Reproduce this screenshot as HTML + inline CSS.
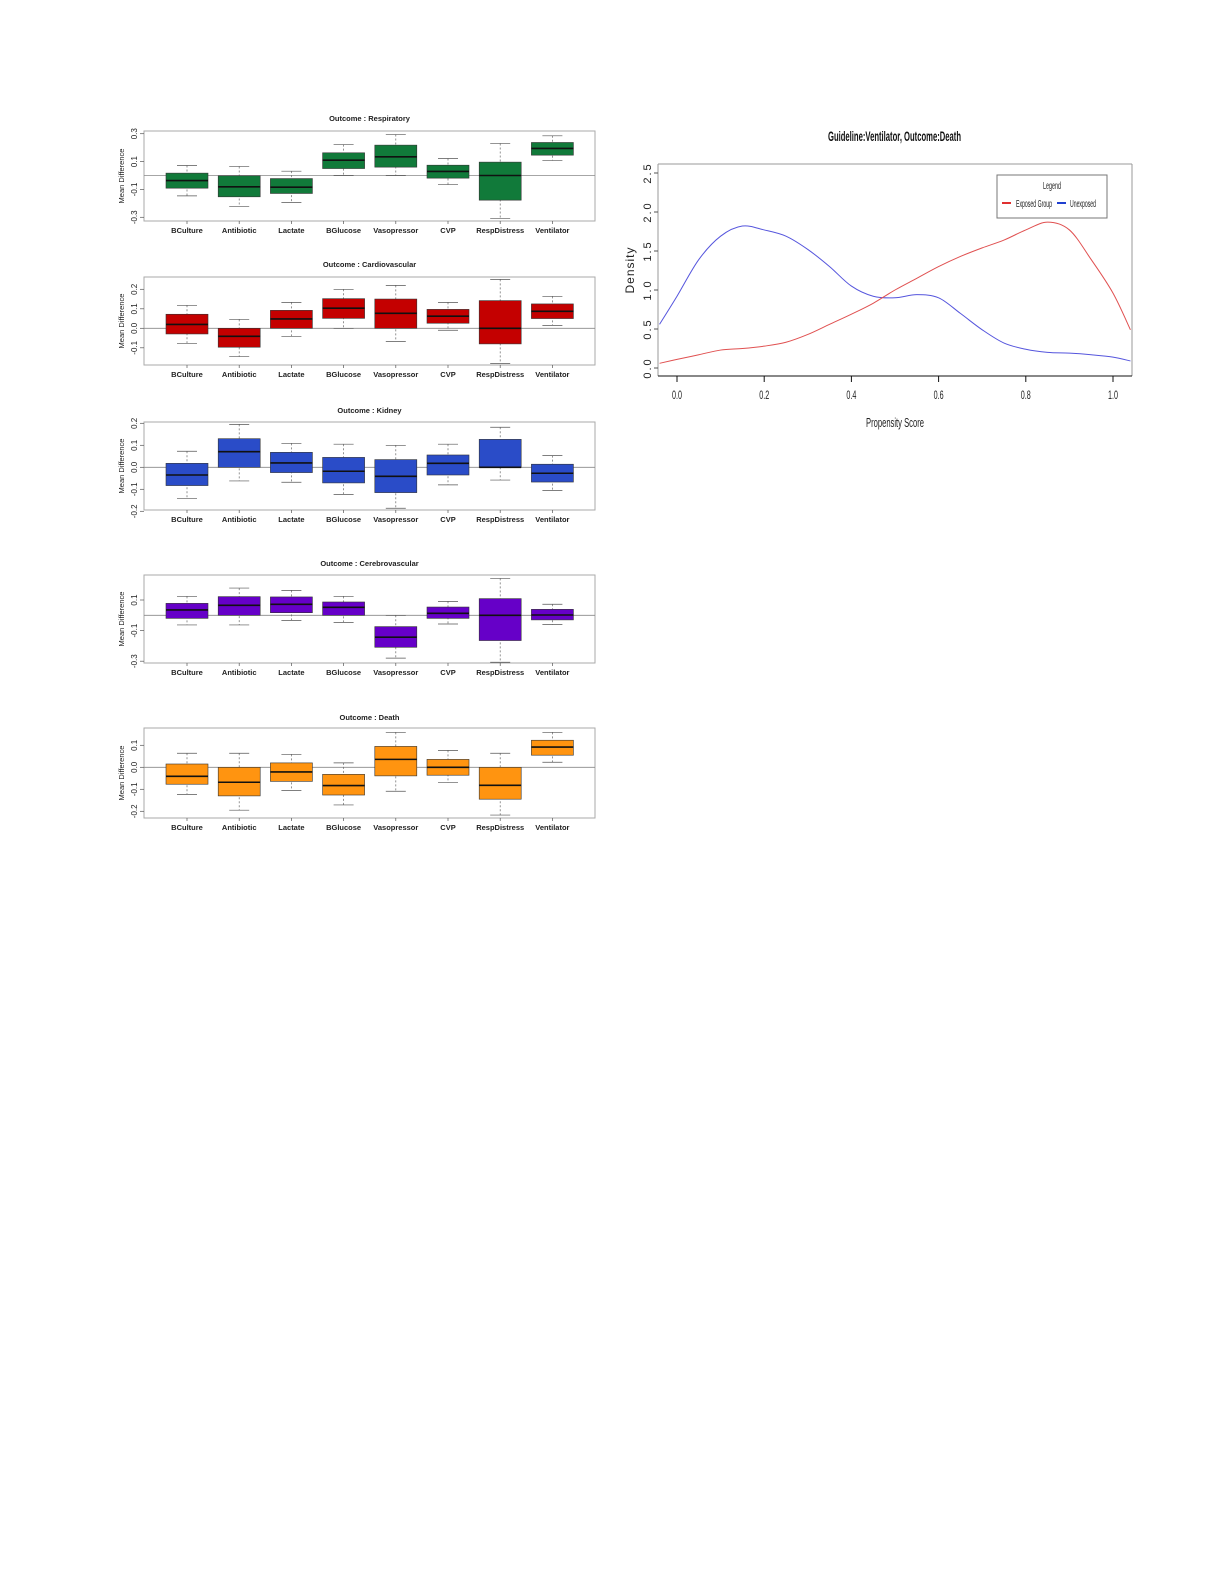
<!DOCTYPE html>
<html><head><meta charset="utf-8">
<style>
html,body{margin:0;padding:0;background:#fff;}
svg{display:block;font-family:"Liberation Sans",sans-serif;}
.bt{font-size:7.5px;font-weight:bold;fill:#222;}
.cat{font-size:7.5px;fill:#222;}
.tk{font-size:8px;fill:#222;}
</style></head>
<body>
<svg id="root" width="1225" height="1585" viewBox="0 0 1225 1585">
<g id="boxes"></g>
<g id="dens"></g>
</svg>
<script>
const categories = ["BCulture","Antibiotic","Lactate","BGlucose","Vasopressor","CVP","RespDistress","Ventilator"];
const titles = ["Outcome : Respiratory","Outcome : Cardiovascular","Outcome : Kidney","Outcome : Cerebrovascular","Outcome : Death"];
const colors = ["#117a3a","#c40000","#2a4cc8","#6600c8","#ff9410"];
// [lo, q1, med, q3, hi] per category
const respStats = [[-0.146,-0.091,-0.036,0.017,0.072],[-0.222,-0.153,-0.081,-0.002,0.065],[-0.194,-0.129,-0.084,-0.022,0.031],[0,0.05,0.110,0.163,0.222],[0,0.06,0.134,0.218,0.294],[-0.065,-0.019,0.029,0.074,0.122],[-0.309,-0.177,0,0.096,0.23],[0.108,0.146,0.194,0.237,0.285]];
const cardStats = [[-0.077,-0.029,0.02,0.072,0.118],[-0.145,-0.097,-0.041,0,0.046],[-0.041,0,0.048,0.092,0.133],[0,0.051,0.103,0.152,0.2],[-0.067,0,0.077,0.15,0.22],[-0.01,0.026,0.062,0.097,0.133],[-0.18,-0.08,0,0.142,0.251],[0.015,0.05,0.087,0.125,0.164]];
const kidStats = [[-0.141,-0.083,-0.035,0.018,0.073],[-0.062,0,0.071,0.13,0.195],[-0.068,-0.024,0.02,0.068,0.109],[-0.123,-0.071,-0.018,0.045,0.105],[-0.186,-0.115,-0.041,0.035,0.1],[-0.08,-0.035,0.018,0.056,0.105],[-0.058,0,0,0.127,0.182],[-0.105,-0.067,-0.027,0.014,0.053]];
const cereStats = [[-0.063,-0.02,0.035,0.078,0.124],[-0.063,0,0.065,0.122,0.178],[-0.033,0.017,0.072,0.12,0.163],[-0.046,0,0.052,0.087,0.124],[-0.28,-0.209,-0.143,-0.074,0],[-0.057,-0.02,0.013,0.054,0.091],[-0.307,-0.165,0,0.109,0.241],[-0.061,-0.03,0.002,0.039,0.072]];
const deathStats = [[-0.123,-0.077,-0.041,0.015,0.064],[-0.195,-0.13,-0.068,0,0.064],[-0.105,-0.064,-0.021,0.02,0.059],[-0.171,-0.126,-0.083,-0.032,0.02],[-0.109,-0.039,0.036,0.095,0.159],[-0.07,-0.036,0,0.036,0.077],[-0.217,-0.145,-0.082,0,0.064],[0.023,0.055,0.092,0.123,0.159]];
const panelStats = [respStats,cardStats,kidStats,cereStats,deathStats];
const tickSets = [[0.3,0.1,-0.1,-0.3],[0.2,0.1,0.0,-0.1],[0.2,0.1,0.0,-0.1,-0.2],[0.1,-0.1,-0.3],[0.1,0.0,-0.1,-0.2]];

// density data
const gridX = [-0.04,0,0.05,0.1,0.15,0.2,0.25,0.3,0.35,0.4,0.45,0.5,0.55,0.6,0.65,0.7,0.75,0.8,0.85,0.9,0.95,1.0,1.04];
const unexposed = [0.56,0.92,1.39,1.69,1.82,1.77,1.69,1.52,1.30,1.05,0.92,0.90,0.94,0.90,0.70,0.49,0.32,0.24,0.20,0.19,0.17,0.14,0.09];
const exposed = [0.06,0.11,0.17,0.23,0.25,0.28,0.33,0.43,0.56,0.69,0.83,1.00,1.15,1.30,1.43,1.54,1.64,1.77,1.87,1.77,1.39,0.96,0.49];
const xTicks = ["0.0","0.2","0.4","0.6","0.8","1.0"];
const yTicks = ["0.0","0.5","1.0","1.5","2.0","2.5"];

const NS="http://www.w3.org/2000/svg";
function mk(parent,tag,attrs,text){const e=document.createElementNS(NS,tag);for(const k in attrs)e.setAttribute(k,attrs[k]);if(text!==undefined)e.textContent=text;parent.appendChild(e);return e;}

const layout=[{title:118,top:131,bot:221,zero:175.5,k:139.3},{title:264,top:277,bot:365,zero:328.3,k:195},{title:410,top:422,bot:510,zero:467.3,k:220},{title:563,top:575,bot:663,zero:615.3,k:153},{title:717,top:728,bot:818,zero:767.3,k:220}];
const L=144,R=595,c0=187,dc=52.2,bw=42;
const bg=document.getElementById('boxes');
layout.forEach((p,pi)=>{
  const g=mk(bg,'g',{});
  
  
  const y=v=>p.zero-v*p.k;
  const t=mk(g,'text',{x:(L+R)/2,y:p.title+3,'text-anchor':'middle',class:'bt'},titles[pi]);
  
  
  const fr=mk(g,'rect',{x:L,y:p.top,width:R-L,height:p.bot-p.top,fill:'none',stroke:'#aaa','stroke-width':1});
  
  
  mk(g,'line',{x1:L,x2:R,y1:y(0),y2:y(0),stroke:'#888','stroke-width':0.8});
  tickSets[pi].forEach(v=>{
    mk(g,'line',{x1:L-4,x2:L,y1:y(v),y2:y(v),stroke:'#555','stroke-width':0.7});
    const tl=mk(g,'text',{x:0,y:0,class:'tk','text-anchor':'middle',transform:`translate(137,${y(v)}) rotate(-90)`},v.toFixed(1));
    
    
  });
  const yt=mk(g,'text',{x:0,y:0,class:'cat','text-anchor':'middle',transform:`translate(124,${(p.top+p.bot)/2}) rotate(-90)`},'Mean Difference');
  
  
  panelStats[pi].forEach((s,i)=>{
    const cx=c0+i*dc;
    const bx=mk(g,'g',{});
    
    
    mk(bx,'line',{x1:cx,x2:cx,y1:y(s[4]),y2:y(s[0]),stroke:'#666','stroke-width':0.7,'stroke-dasharray':'2,2'});
    mk(bx,'line',{x1:cx-10,x2:cx+10,y1:y(s[4]),y2:y(s[4]),stroke:'#555','stroke-width':0.7});
    mk(bx,'line',{x1:cx-10,x2:cx+10,y1:y(s[0]),y2:y(s[0]),stroke:'#555','stroke-width':0.7});
    mk(bx,'rect',{x:cx-bw/2,y:y(s[3]),width:bw,height:Math.max(0.5,y(s[1])-y(s[3])),fill:colors[pi],stroke:'#333','stroke-width':0.6});
    mk(bx,'line',{x1:cx-bw/2,x2:cx+bw/2,y1:y(s[2]),y2:y(s[2]),stroke:'#111','stroke-width':1.6});
    mk(g,'line',{x1:cx,x2:cx,y1:p.bot,y2:p.bot+3,stroke:'#555','stroke-width':0.7});
    const cl=mk(g,'text',{x:cx,y:p.bot+12,'text-anchor':'middle',class:'cat','font-weight':'bold'},categories[i]);
    
    
  });
});

// density chart
const dg=document.getElementById('dens');
const DL=658,DR=1132,DT=164,DB=376;
const X=v=>677+v*436, Y=d=>368-d*78;
const NA={lengthAdjust:'spacingAndGlyphs'};
const dt=mk(dg,'text',{x:828,y:141,'font-size':'14','font-weight':'bold',fill:'#111',textLength:133,lengthAdjust:'spacingAndGlyphs'},'Guideline:Ventilator, Outcome:Death');


const cp=mk(dg,'clipPath',{id:'cp'});mk(cp,'rect',{x:DL,y:DT,width:DR-DL,height:DB-DT});
mk(dg,'line',{x1:DL,x2:DL,y1:DT,y2:DB,stroke:'#999'});
mk(dg,'line',{x1:DL,x2:DR,y1:DT,y2:DT,stroke:'#999'});
mk(dg,'line',{x1:DR,x2:DR,y1:DT,y2:DB,stroke:'#999'});
const xa=mk(dg,'line',{x1:DL,x2:DR,y1:DB,y2:DB,stroke:'#111','stroke-width':1});


xTicks.forEach(s=>{const v=parseFloat(s);
  mk(dg,'line',{x1:X(v),x2:X(v),y1:DB,y2:DB+6,stroke:'#111'});
  const t=mk(dg,'text',{x:X(v)-5,y:399,'font-size':'12',fill:'#222',textLength:10,lengthAdjust:'spacingAndGlyphs'},s);
  
  
});
yTicks.forEach(s=>{const v=parseFloat(s);
  mk(dg,'line',{x1:DL-4,x2:DL,y1:Y(v),y2:Y(v),stroke:'#555'});
  const t=mk(dg,'text',{x:0,y:0,'text-anchor':'middle','font-size':'11','letter-spacing':'2',fill:'#222',transform:`translate(651,${Y(v)}) rotate(-90)`},s);
  
  
});
const yl=mk(dg,'text',{x:0,y:0,'text-anchor':'middle','font-size':'12','letter-spacing':'1',fill:'#222',transform:'translate(634,270) rotate(-90)'},'Density');


const xl=mk(dg,'text',{x:866,y:427,'font-size':'13',fill:'#222',textLength:58,lengthAdjust:'spacingAndGlyphs'},'Propensity Score');


function smooth(xs,ys){const P=xs.map((x,i)=>[X(x),Y(ys[i])]);let d=`M${P[0][0]},${P[0][1]}`;
  for(let i=0;i<P.length-1;i++){const p0=P[Math.max(0,i-1)],p1=P[i],p2=P[i+1],p3=P[Math.min(P.length-1,i+2)];
    d+=` C${p1[0]+(p2[0]-p0[0])/6},${p1[1]+(p2[1]-p0[1])/6} ${p2[0]-(p3[0]-p1[0])/6},${p2[1]-(p3[1]-p1[1])/6} ${p2[0]},${p2[1]}`;}
  return d;}
const ln1=mk(dg,'path',{d:smooth(gridX,unexposed),fill:'none',stroke:'#5555dd','stroke-width':1,'clip-path':'url(#cp)'});


const ln2=mk(dg,'path',{d:smooth(gridX,exposed),fill:'none',stroke:'#e05050','stroke-width':1,'clip-path':'url(#cp)'});


const lg=mk(dg,'g',{});


mk(lg,'rect',{x:997,y:175,width:110,height:43,fill:'#fff',stroke:'#777'});
mk(lg,'text',{x:1043,y:189,'font-size':'10',fill:'#222',textLength:18,lengthAdjust:'spacingAndGlyphs'},'Legend');
mk(lg,'line',{x1:1002,x2:1011,y1:203,y2:203,stroke:'#e03030','stroke-width':2});
const le1=mk(lg,'text',{x:1016,y:207,'font-size':'10',fill:'#222',textLength:36,lengthAdjust:'spacingAndGlyphs'},'Exposed Group');


mk(lg,'line',{x1:1057,x2:1066,y1:203,y2:203,stroke:'#2040d0','stroke-width':2});
const le2=mk(lg,'text',{x:1070,y:207,'font-size':'10',fill:'#222',textLength:26,lengthAdjust:'spacingAndGlyphs'},'Unexposed');


</script>
</body></html>
